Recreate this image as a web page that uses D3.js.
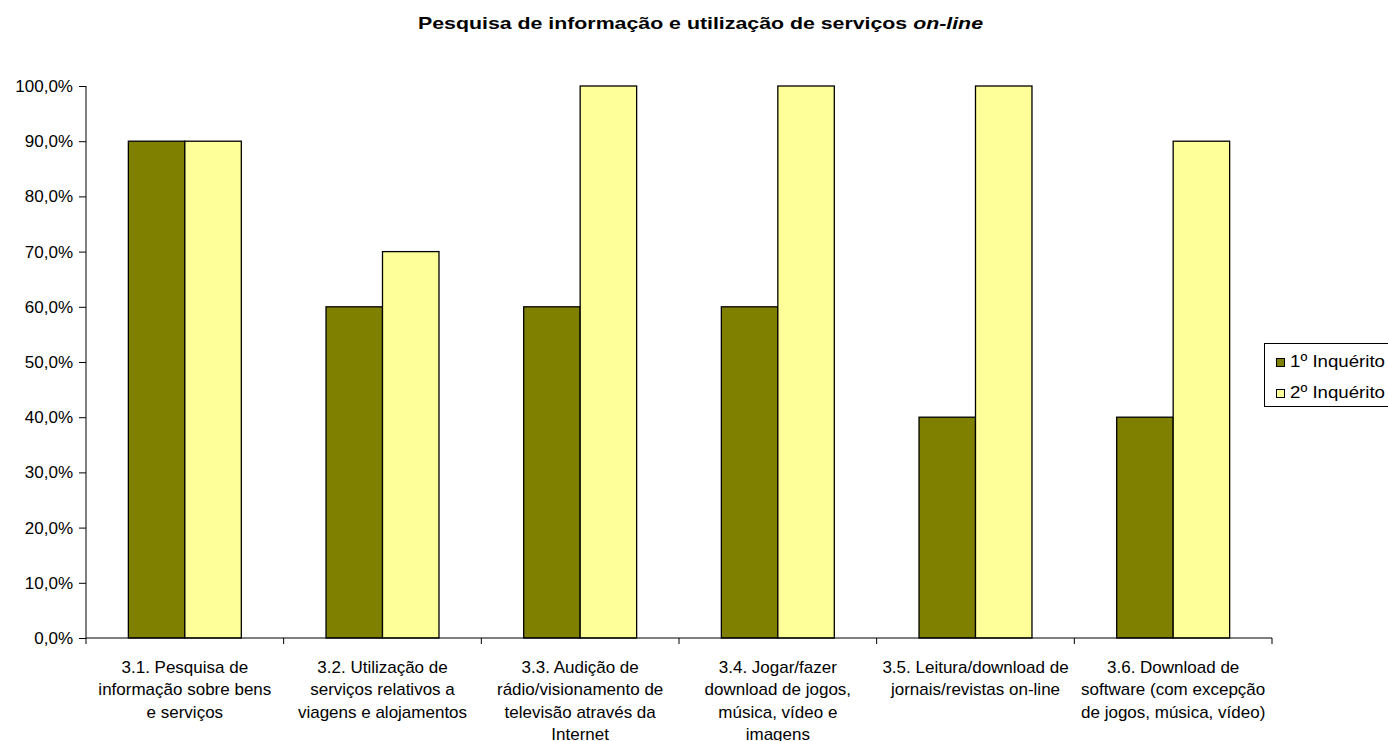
<!DOCTYPE html>
<html><head><meta charset="utf-8">
<script src="https://cdn.jsdelivr.net/npm/d3@7"></script>
<style>body{margin:0;background:#fff}svg{display:block}text{font-family:"Liberation Sans",Arial,sans-serif}</style>
</head><body>
<svg id="c" width="1388" height="741"></svg>
<script>
const categories = [
  ["3.1. Pesquisa de","informação sobre bens","e serviços"],
  ["3.2. Utilização de","serviços relativos a","viagens e alojamentos"],
  ["3.3. Audição de","rádio/visionamento de","televisão através da","Internet"],
  ["3.4. Jogar/fazer","download de jogos,","música, vídeo e","imagens"],
  ["3.5. Leitura/download de","jornais/revistas on-line"],
  ["3.6. Download de","software (com excepção","de jogos, música, vídeo)"]
];
const seriesNames = ["1º Inquérito","2º Inquérito"];
const inquerito1 = [0.9,0.6,0.6,0.6,0.4,0.4];
const inquerito2 = [0.9,0.7,1.0,1.0,1.0,0.9];
const yTicks = [0,0.1,0.2,0.3,0.4,0.5,0.6,0.7,0.8,0.9,1.0];
const colors = ["#808000","#FFFF99"];

const svg = d3.select("#c");
const pL=86,pR=1272,pT=86,pB=638;
const idx = categories.map((d,i)=>i);
const x0 = d3.scaleBand().domain(idx).range([pL,pR]).paddingInner(0).paddingOuter(0);
const x1 = d3.scaleBand().domain([0,1]).range([0,x0.bandwidth()]).paddingOuter(0.75).paddingInner(0);
const y = d3.scaleLinear().domain([0,1]).range([pB,pT]);

svg.append("text").attr("x",700.5).attr("y",29).attr("text-anchor","middle")
  .attr("font-size",17).attr("font-weight","bold")
  .attr("textLength",565).attr("lengthAdjust","spacingAndGlyphs")
  .call(t=>{t.append("tspan").text("Pesquisa de informação e utilização de serviços ");
            t.append("tspan").attr("font-style","italic").text("on-line");});

const fmt = v => d3.format(".1f")(v*100).replace(".",",")+"%";
const yAxis = d3.axisLeft(y).tickValues(yTicks).tickFormat(fmt).tickSize(7).tickPadding(6);
const gy = svg.append("g").attr("transform",`translate(${pL},0)`).call(yAxis);
gy.selectAll("text").attr("font-size",17).attr("fill","#000").style("font-family","'Liberation Sans',Arial,sans-serif");
gy.selectAll("line,path").attr("stroke","#000");
gy.select("path.domain").attr("d",`M0,${pT}V${pB}`);

const data = idx.map(i=>[inquerito1[i],inquerito2[i]]);
const g = svg.append("g");
idx.forEach(i=>{
  data[i].forEach((v,s)=>{
    g.append("rect").attr("x",x0(i)+x1(s)).attr("y",y(v))
      .attr("width",x1.bandwidth()).attr("height",y(0)-y(v))
      .attr("fill",colors[s]).attr("stroke","#000").attr("stroke-width",1.3);
  });
});

// x axis
const xa = svg.append("g");
xa.append("line").attr("x1",pL).attr("x2",pR).attr("y1",pB).attr("y2",pB).attr("stroke","#000");
idx.concat([idx.length]).forEach(i=>{
  const xx = i<idx.length? x0(i): pR;
  xa.append("line").attr("x1",xx).attr("x2",xx).attr("y1",pB).attr("y2",pB+6).attr("stroke","#000");
});
idx.forEach(i=>{
  const t = xa.append("text").attr("text-anchor","middle").attr("font-size",17);
  categories[i].forEach((ln,k)=>{
    t.append("tspan").attr("x",x0(i)+x0.bandwidth()/2).attr("y",673+k*22.3).text(ln);
  });
});

// legend
const lg = svg.append("g");
lg.append("rect").attr("x",1264.5).attr("y",343.5).attr("width",130).attr("height",63).attr("fill","#fff").attr("stroke","#000");
seriesNames.forEach((n,i)=>{
  lg.append("rect").attr("x",1276.5).attr("y",358.5+i*31).attr("width",8).attr("height",8).attr("fill",colors[i]).attr("stroke","#000");
  lg.append("text").attr("x",1290).attr("y",367+i*30.5).attr("font-size",17)
    .attr("textLength",95).attr("lengthAdjust","spacingAndGlyphs").text(n);
});
</script>
</body></html>
